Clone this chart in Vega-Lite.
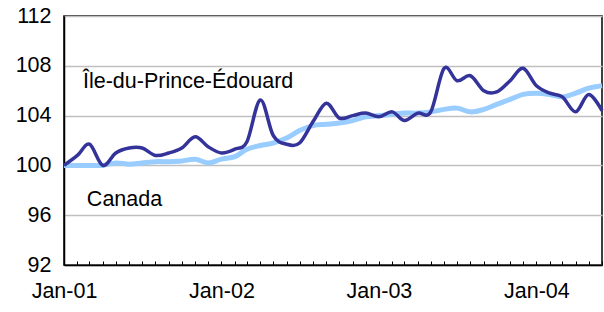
{
  "$schema": "https://vega.github.io/schema/vega-lite/v6.json",
  "width": 538,
  "height": 249,
  "autosize": "none",
  "padding": {"left": 64, "top": 16, "right": 2, "bottom": 47},
  "background": "white",
  "config": {
    "font": "Liberation Sans",
    "view": {"stroke": "black", "strokeWidth": 1.5},
    "axis": {"labelFont": "Liberation Sans", "labelFontSize": 21.5, "labelColor": "black"}
  },
  "datasets": {
    "series": [
      {"date": "2001-01-01", "pei": 100.0, "canada": 100.0},
      {"date": "2001-02-01", "pei": 100.8, "canada": 100.0},
      {"date": "2001-03-01", "pei": 101.7, "canada": 100.0},
      {"date": "2001-04-01", "pei": 100.0, "canada": 100.0},
      {"date": "2001-05-01", "pei": 101.0, "canada": 100.2},
      {"date": "2001-06-01", "pei": 101.4, "canada": 100.1},
      {"date": "2001-07-01", "pei": 101.4, "canada": 100.2},
      {"date": "2001-08-01", "pei": 100.8, "canada": 100.3},
      {"date": "2001-09-01", "pei": 101.0, "canada": 100.3},
      {"date": "2001-10-01", "pei": 101.4, "canada": 100.35},
      {"date": "2001-11-01", "pei": 102.3, "canada": 100.5},
      {"date": "2001-12-01", "pei": 101.5, "canada": 100.2},
      {"date": "2002-01-01", "pei": 101.0, "canada": 100.5},
      {"date": "2002-02-01", "pei": 101.3, "canada": 100.7},
      {"date": "2002-03-01", "pei": 101.9, "canada": 101.3},
      {"date": "2002-04-01", "pei": 105.25, "canada": 101.6},
      {"date": "2002-05-01", "pei": 102.4, "canada": 101.8},
      {"date": "2002-06-01", "pei": 101.7, "canada": 102.2},
      {"date": "2002-07-01", "pei": 101.8, "canada": 102.8},
      {"date": "2002-08-01", "pei": 103.5, "canada": 103.2},
      {"date": "2002-09-01", "pei": 105.0, "canada": 103.3},
      {"date": "2002-10-01", "pei": 103.8, "canada": 103.4},
      {"date": "2002-11-01", "pei": 104.0, "canada": 103.6},
      {"date": "2002-12-01", "pei": 104.2, "canada": 103.9},
      {"date": "2003-01-01", "pei": 103.9, "canada": 104.0},
      {"date": "2003-02-01", "pei": 104.3, "canada": 104.1},
      {"date": "2003-03-01", "pei": 103.6, "canada": 104.2},
      {"date": "2003-04-01", "pei": 104.2, "canada": 104.2},
      {"date": "2003-05-01", "pei": 104.3, "canada": 104.3},
      {"date": "2003-06-01", "pei": 107.8, "canada": 104.5},
      {"date": "2003-07-01", "pei": 106.8, "canada": 104.6},
      {"date": "2003-08-01", "pei": 107.2, "canada": 104.3},
      {"date": "2003-09-01", "pei": 106.0, "canada": 104.5},
      {"date": "2003-10-01", "pei": 105.9, "canada": 104.9},
      {"date": "2003-11-01", "pei": 106.8, "canada": 105.3},
      {"date": "2003-12-01", "pei": 107.8, "canada": 105.7},
      {"date": "2004-01-01", "pei": 106.4, "canada": 105.8},
      {"date": "2004-02-01", "pei": 105.8, "canada": 105.7},
      {"date": "2004-03-01", "pei": 105.5, "canada": 105.5},
      {"date": "2004-04-01", "pei": 104.3, "canada": 105.8},
      {"date": "2004-05-01", "pei": 105.7, "canada": 106.2},
      {"date": "2004-06-01", "pei": 104.4, "canada": 106.4}
    ],
    "labels": [
      {"date": "2001-02-14", "value": 106.2, "text": "Île-du-Prince-Édouard"},
      {"date": "2001-02-23", "value": 96.75, "text": "Canada"}
    ]
  },
  "encoding": {
    "x": {
      "field": "date",
      "type": "temporal",
      "scale": {"type": "utc", "domain": [{"year": 2001, "month": 1, "date": 1, "utc": true}, {"year": 2004, "month": 6, "date": 1, "utc": true}]},
      "axis": {
        "title": null,
        "grid": false,
        "domainColor": "black",
        "domainWidth": 1.5,
        "tickColor": "black",
        "tickWidth": 1,
        "tickSize": -4,
        "tickCount": {"interval": "month", "step": 1},
        "labelExpr": "utcFormat(datum.value, '%m') == '01' ? utcFormat(datum.value, '%b-%y') : ''",
        "labelPadding": 19,
        "labelBaseline": "top",
        "labelOverlap": false,
        "labelFlush": false
      }
    },
    "y": {
      "type": "quantitative",
      "scale": {"domain": [92, 112], "nice": false, "zero": false},
      "axis": {
        "title": null,
        "values": [92, 96, 100, 104, 108, 112],
        "grid": true,
        "gridColor": "#c0c0c0",
        "gridWidth": 1.5,
        "domainColor": "black",
        "domainWidth": 1.5,
        "ticks": false,
        "labelPadding": 13
      }
    }
  },
  "layer": [
    {
      "data": {"name": "series"},
      "mark": {"type": "line", "color": "#99ccff", "strokeWidth": 5, "interpolate": "cardinal"},
      "encoding": {"y": {"field": "canada", "type": "quantitative"}}
    },
    {
      "data": {"name": "series"},
      "mark": {"type": "line", "color": "#333399", "strokeWidth": 3.5, "interpolate": "cardinal"},
      "encoding": {"y": {"field": "pei", "type": "quantitative"}}
    },
    {
      "data": {"name": "labels"},
      "mark": {"type": "text", "align": "left", "baseline": "alphabetic", "fontSize": 21.5, "font": "Liberation Sans", "color": "black"},
      "encoding": {
        "y": {"field": "value", "type": "quantitative"},
        "text": {"field": "text"}
      }
    }
  ]
}
